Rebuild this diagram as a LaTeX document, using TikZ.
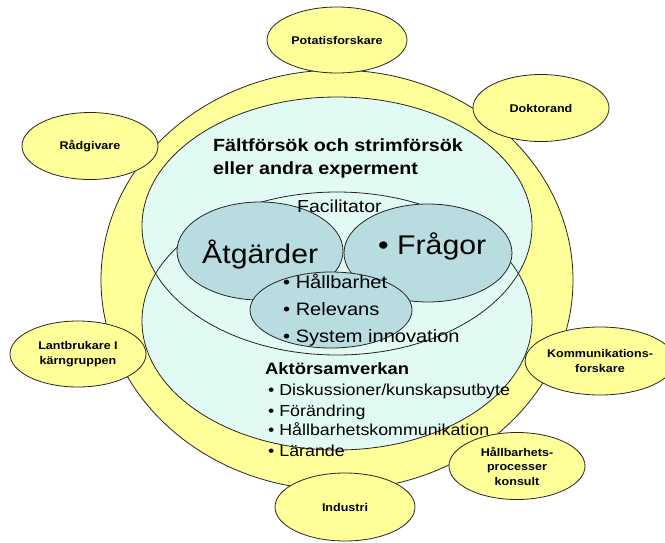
\documentclass[tikz,border=0pt]{standalone}
\usepackage{fontspec}
\setmainfont{Liberation Sans}[FakeStretch=1.12]
\usetikzlibrary{shapes.geometric}
\definecolor{ringyellow}{HTML}{FFFF99}
\definecolor{fieldcyan}{HTML}{E2FAF4}
\definecolor{coreteal}{HTML}{B8DCE0}
\tikzset{
	outline/.style={draw=black!85, line width=0.8pt},
	actor/.style={ellipse, outline, fill=ringyellow, inner sep=0pt, minimum width=136pt, minimum height=67pt, align=center, font=\fontsize{11.2}{14.5}\selectfont\bfseries},
	headtext/.style={anchor=base west, inner sep=0pt, font=\fontsize{17.6}{23}\selectfont\bfseries},
	midtext/.style={anchor=base west, inner sep=0pt, font=\fontsize{17.4}{21}\selectfont},
	bigtext/.style={anchor=base west, inner sep=0pt, font=\fontsize{27}{30}\selectfont},
	listtext/.style={anchor=base west, inner sep=0pt, font=\fontsize{15.9}{20}\selectfont}
}

\begin{document}
\begin{tikzpicture}[x=1pt, y=-1pt]
	%%%%% START %%%%%
	\useasboundingbox (0,0) rectangle (665,542);
	
	% outer ring
	\draw[outline, fill=ringyellow] (337,280) ellipse (236pt and 210pt);
	
	% field trials and actor collaboration
	\fill[fieldcyan] (337,226) ellipse (195pt and 129pt);
	\fill[fieldcyan] (337,321) ellipse (195pt and 129pt);
	\draw[outline] (337,226) ellipse (195pt and 129pt);
	\draw[outline] (337,321) ellipse (195pt and 129pt);
	
	% core
	\draw[outline, fill=coreteal] (260,251) ellipse (83pt and 49pt);
	\draw[outline, fill=coreteal] (428,253) ellipse (84pt and 49pt);
	\draw[outline, fill=coreteal] (331,310) ellipse (81pt and 38pt);
	
	\node[headtext] (falt) at (213,151) {Fältförsök och strimförsök};
	\node[headtext] (experment) at (213,174) {eller andra experment};
	\node[midtext] (facil) at (297,212) {Facilitator};
	\node[bigtext] (atgarder) at (202,263) {Åtgärder};
	\node[bigtext] (fragor) at (378,254) {• Frågor};
	
	\node[midtext, font=\fontsize{17.9}{21}\selectfont] (hallbar) at (283,288) {• Hållbarhet};
	\node[midtext, font=\fontsize{17.9}{21}\selectfont] (relevans) at (283,315) {• Relevans};
	\node[midtext, font=\fontsize{17.9}{21}\selectfont] (sysinno) at (283,342) {• System innovation};
	
	\node[listtext, font=\fontsize{16.4}{20}\selectfont\bfseries] (aktor) at (265,374) {Aktörsamverkan};
	\node[listtext] (diskus) at (268,395) {• Diskussioner/kunskapsutbyte};
	\node[listtext] (forandr) at (268,416) {• Förändring};
	\node[listtext] (hkomm) at (268,435) {• Hållbarhetskommunikation};
	\node[listtext] (larande) at (268,456) {• Lärande};
	
	% actors round the ring
	\node[actor, minimum width=140pt, minimum height=66pt] (potatis) at (337,40) {Potatisforskare};
	\node[actor] (doktorand) at (541,108) {Doktorand};
	\node[actor] (radgivare) at (90,146) {Rådgivare};
	\node[actor, minimum height=66pt] (lantbrukare) at (78,354) {Lantbrukare I\\kärngruppen};
	\node[actor, minimum width=130pt, minimum height=68pt] (kommforsk) at (600,361) {Kommunikations-\\forskare};
	\node[actor] (processkonsult) at (517,466) {Hållbarhets-\\processer\\konsult};
	\node[actor, minimum width=140pt, minimum height=68pt] (industri) at (345,507) {Industri};
	
	%%%%% END %%%%%
\end{tikzpicture}
\end{document}
